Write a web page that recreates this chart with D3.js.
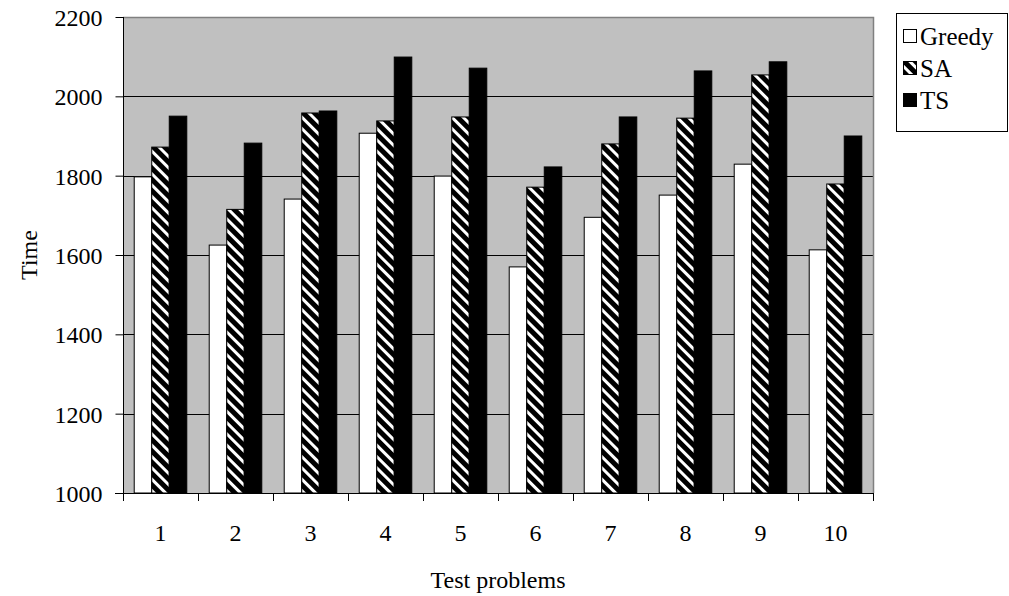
<!DOCTYPE html>
<html>
<head>
<meta charset="utf-8">
<script src="https://cdn.jsdelivr.net/npm/d3@7"></script>
<style>
body { margin: 0; background: #fff; }
svg text { font-family: "Liberation Serif", "Times New Roman", serif !important; fill: #000; }
</style>
</head>
<body>
<div id="chart"></div>
<script>
var categories = ["1", "2", "3", "4", "5", "6", "7", "8", "9", "10"];
var series = ["Greedy", "SA", "TS"];
var greedy = [1797, 1625, 1741, 1907, 1799, 1570, 1695, 1751, 1829, 1613];
var sa = [1872, 1715, 1958, 1938, 1948, 1771, 1880, 1945, 2054, 1779];
var ts = [1950, 1882, 1963, 2099, 2071, 1822, 1948, 2064, 2087, 1900];
var yTicks = [1000, 1200, 1400, 1600, 1800, 2000, 2200];

var width = 1009, height = 596;
var plotL = 123, plotT = 17, plotR = 873, plotB = 493;
var serif = "'Liberation Serif', 'Times New Roman', serif";

var svg = d3.select("#chart").append("svg")
    .attr("width", width)
    .attr("height", height)
    .attr("font-family", serif);

// diagonal stripes for SA
var defs = svg.append("defs");
var pat = defs.append("pattern")
    .attr("id", "stripes")
    .attr("patternUnits", "userSpaceOnUse")
    .attr("width", 8)
    .attr("height", 8)
    .attr("patternTransform", "rotate(-45)");
pat.append("rect").attr("width", 8).attr("height", 8).attr("fill", "#000");
pat.append("rect").attr("x", 0).attr("width", 3).attr("height", 8).attr("fill", "#fff");

var fills = {Greedy: "#fff", SA: "url(#stripes)", TS: "#000"};
var values = {Greedy: greedy, SA: sa, TS: ts};

var x = d3.scaleBand()
    .domain(categories)
    .range([plotL, plotR])
    .paddingInner(0)
    .paddingOuter(0);

var x1 = d3.scaleBand()
    .domain(series)
    .range([0, x.bandwidth()])
    .paddingInner(0)
    .paddingOuter(0.64);

var y = d3.scaleLinear()
    .domain([1000, 2200])
    .range([plotB, plotT]);

// plot background
svg.append("rect")
    .attr("x", plotL).attr("y", plotT)
    .attr("width", plotR - plotL).attr("height", plotB - plotT)
    .attr("fill", "#c0c0c0");

// gridlines
svg.append("g")
  .selectAll("line")
  .data(yTicks.slice(1, -1))
  .enter().append("line")
    .attr("x1", plotL).attr("x2", plotR)
    .attr("y1", function(d) { return Math.round(y(d)) + 0.5; })
    .attr("y2", function(d) { return Math.round(y(d)) + 0.5; })
    .attr("stroke", "#000")
    .attr("stroke-width", 1);

// top / right border
svg.append("path")
    .attr("d", "M" + plotL + "," + (plotT + 0.5) + "H" + (plotR + 0.5) + "V" + plotB)
    .attr("fill", "none")
    .attr("stroke", "#808080")
    .attr("stroke-width", 1.5);

// bars
var g = svg.selectAll(".grp")
    .data(categories)
    .enter().append("g")
    .attr("class", "grp")
    .attr("transform", function(d) { return "translate(" + x(d) + ",0)"; });

g.selectAll("rect")
    .data(function(d, i) { return series.map(function(s) { return {s: s, v: values[s][i]}; }); })
    .enter().append("rect")
    .attr("x", function(d) { return x1(d.s); })
    .attr("y", function(d) { return y(d.v); })
    .attr("width", x1.bandwidth())
    .attr("height", function(d) { return y(1000) - y(d.v); })
    .attr("fill", function(d) { return fills[d.s]; })
    .attr("stroke", "#000")
    .attr("stroke-width", 1);

// axes
var yAxis = d3.axisLeft(y)
    .tickValues(yTicks)
    .tickSize(8)
    .tickPadding(13)
    .tickFormat(d3.format("d"));

var gy = svg.append("g")
    .attr("transform", "translate(" + (plotL + 0.5) + ",0)")
    .call(yAxis)
    .attr("font-family", serif);
gy.select(".domain").attr("d", "M0," + plotT + "V" + plotB);
gy.selectAll("text").style("font-size", "24px").style("font-family", serif).attr("dy", "0.35em");

var xAxis = d3.axisBottom(x)
    .tickSize(0)
    .tickPadding(30);

var gx = svg.append("g")
    .attr("transform", "translate(0," + (plotB + 0.5) + ")")
    .call(xAxis)
    .attr("font-family", serif);
gx.select(".domain").attr("d", "M" + (plotL - 8) + ",0H" + plotR);
gx.selectAll("text").style("font-size", "24px").style("font-family", serif);

// category boundary ticks
svg.append("g")
  .selectAll("line")
  .data(categories.concat(["end"]))
  .enter().append("line")
    .attr("x1", function(d, i) { return Math.round(plotL + i * x.step()) + 0.5; })
    .attr("x2", function(d, i) { return Math.round(plotL + i * x.step()) + 0.5; })
    .attr("y1", plotB)
    .attr("y2", plotB + 8)
    .attr("stroke", "#000");

// axis titles
svg.append("text")
    .attr("transform", "translate(29," + ((plotT + plotB) / 2) + ") rotate(-90)")
    .attr("text-anchor", "middle")
    .attr("dy", "0.35em")
    .style("font-size", "24px")
    .text("Time");

svg.append("text")
    .attr("x", (plotL + plotR) / 2)
    .attr("y", 580)
    .attr("text-anchor", "middle")
    .attr("dy", "0.35em")
    .style("font-size", "24px")
    .text("Test problems");

// legend
var legend = svg.append("g");
legend.append("rect")
    .attr("x", 896.5).attr("y", 13.5)
    .attr("width", 111).attr("height", 118)
    .attr("fill", "#fff")
    .attr("stroke", "#000");

var li = legend.selectAll(".li")
    .data(series)
    .enter().append("g")
    .attr("class", "li")
    .attr("transform", function(d, i) { return "translate(903," + (36 + i * 32) + ")"; });

li.append("rect")
    .attr("x", 0.5).attr("y", -6.5)
    .attr("width", 13).attr("height", 13)
    .attr("fill", function(d) { return fills[d]; })
    .attr("stroke", "#000");

li.append("text")
    .attr("x", 17)
    .attr("dy", "0.35em")
    .style("font-size", "25px")
    .style("font-family", serif)
    .text(function(d) { return d; });
</script>
</body>
</html>
